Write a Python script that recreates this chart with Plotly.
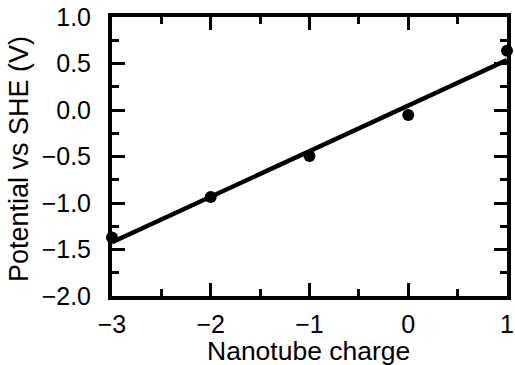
import numpy as np
import plotly.graph_objects as go

charge = [-3, -2, -1, 0, 1]
potential = [-1.37, -0.935, -0.495, -0.054, 0.638]

x_ticks = [-3, -2, -1, 0, 1]
x_tick_labels = ["\u22123", "\u22122", "\u22121", "0", "1"]
y_ticks = [-2.0, -1.5, -1.0, -0.5, 0.0, 0.5, 1.0]
y_tick_labels = ["\u22122.0", "\u22121.5", "\u22121.0", "\u22120.5", "0.0", "0.5", "1.0"]
x_title = "Nanotube charge"
y_title = "Potential vs SHE (V)"

slope, intercept = np.polyfit(charge, potential, 1)
fit_x = [charge[0], charge[-1]]
fit_y = [slope * v + intercept for v in fit_x]

fig = go.Figure()
fig.add_trace(go.Scatter(x=fit_x, y=fit_y, mode="lines",
                         line=dict(color="black", width=4.5), cliponaxis=False,
                         hoverinfo="skip"))
fig.add_trace(go.Scatter(x=charge, y=potential, mode="markers",
                         marker=dict(color="black", size=12), cliponaxis=False))

font = "Liberation Sans, Arial, Helvetica, sans-serif"
axis_common = dict(showline=True, linecolor="black", linewidth=4, mirror="ticks",
                   ticks="inside", ticklen=13, tickwidth=3, tickcolor="black",
                   showgrid=False, zeroline=False, automargin=False,
                   tickfont=dict(family=font, size=25, color="black"))

fig.update_xaxes(range=[-3, 1], tickvals=x_ticks, ticktext=x_tick_labels,
                 minor=dict(ticks="inside", ticklen=7, tickwidth=3, tickcolor="black", dtick=0.5,
                            showgrid=False),
                 ticklabelstandoff=3,
                 **axis_common)
fig.update_yaxes(range=[-2, 1], tickvals=y_ticks, ticktext=y_tick_labels,
                 minor=dict(ticks="inside", ticklen=7, tickwidth=3, tickcolor="black", dtick=0.25,
                            showgrid=False),
                 ticklabelstandoff=12,
                 **axis_common)

fig.add_annotation(text=x_title, xref="paper", yref="paper", x=0.4987, y=-0.1985,
                   xanchor="center", yanchor="middle", showarrow=False, borderpad=0,
                   font=dict(family=font, size=26.5, color="black"))
fig.add_annotation(text=y_title, xref="paper", yref="paper", x=-0.2355, y=0.491,
                   xanchor="center", yanchor="middle", textangle=-90, showarrow=False,
                   borderpad=0, font=dict(family=font, size=27, color="black"))

fig.update_layout(template="none", width=515, height=365, margin=dict(l=112, r=8, t=17, b=69),
                  plot_bgcolor="white", paper_bgcolor="white", showlegend=False)
fig.write_html("out.html")
